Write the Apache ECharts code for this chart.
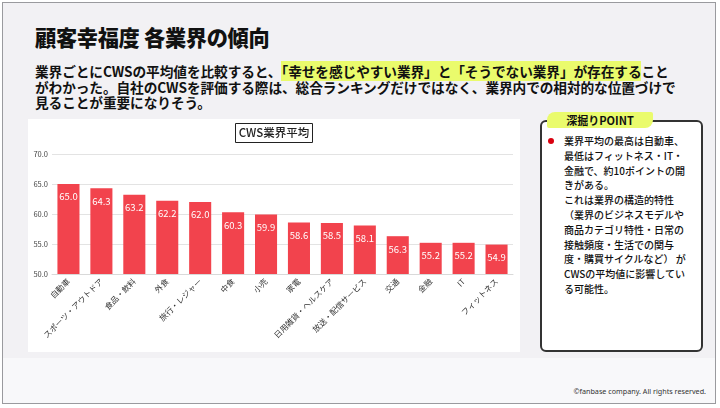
<!DOCTYPE html>
<html>
<head>
    <meta charset="utf-8">
    <title>顧客幸福度 各業界の傾向</title>
    <script src="https://cdn.jsdelivr.net/npm/echarts@6/dist/echarts.min.js"></script>
    <style>
        html, body { margin: 0; padding: 0; }
        body {
            width: 720px; height: 408px; position: relative; overflow: hidden;
            background: #ffffff;
            font-family: "Noto Sans CJK JP", "Noto Sans", sans-serif;
            color: #111;
        }
        #slide {
            position: absolute; left: 2px; top: 2px; width: 714px; height: 402px;
            border: 1.5px solid #9a9a9e; box-sizing: border-box;
            background: #f2f1f4;
        }
        #foot {
            position: absolute; left: 2px; top: 358px; width: 714px; height: 46px;
            background: #f8f8fa; border: 1.5px solid #9a9a9e; border-top: none;
            box-sizing: border-box;
        }
        #title {
            position: absolute; left: 35px; top: 21px;
            font-size: 21.2px; font-weight: 900; letter-spacing: -0.3px;
        }
        #lead {
            position: absolute; left: 35px; top: 64px; width: 680px;
            font-size: 13.7px; font-weight: bold; line-height: 15.6px;
            letter-spacing: -0.1px; white-space: nowrap;
        }
        .hl { background: #eafb6c; }
        #main {
            position: absolute; left: 28px; top: 119px; width: 492px; height: 233px;
            background: #ffffff;
        }
        #point {
            position: absolute; left: 540px; top: 120px; width: 163px; height: 232px;
            border: 2px solid #333; border-radius: 6px; box-sizing: border-box;
            background: #ffffff;
        }
        #tab {
            position: absolute; left: 547px; top: 112px; width: 106px; height: 16px;
            background: #eafb6c; border-radius: 8px 2px 8px 2px;
            font-size: 11px; font-weight: bold; text-align: center; line-height: 16px;
        }
        #dot {
            position: absolute; left: 548px; top: 138px; width: 6px; height: 6px;
            border-radius: 50%; background: #d9000f;
        }
        #note {
            position: absolute; left: 564px; top: 134px;
            font-size: 10px; line-height: 14.8px; font-weight: 500; color: #111;
            white-space: nowrap;
        }
        #copy {
            position: absolute; right: 14px; top: 386px;
            font-family: "Noto Sans", sans-serif; font-size: 7.2px; color: #333;
        }
    </style>
</head>
<body>
    <div id="slide"></div>
    <div id="foot"></div>
    <div id="title">顧客幸福度 各業界の傾向</div>
    <div id="lead">業界ごとにCWSの平均値を比較すると、<span class="hl">「幸せを感じやすい業界」と「そうでない業界」が存在する</span>こと<br>がわかった。自社のCWSを評価する際は、総合ランキングだけではなく、業界内での相対的な位置づけで<br>見ることが重要になりそう。</div>
    <div id="main"></div>
    <div id="point"></div>
    <div id="tab">深掘りPOINT</div>
    <div id="dot"></div>
    <div id="note">業界平均の最高は自動車、<br>最低はフィットネス・IT・<br>金融で、約10ポイントの開<br>きがある。<br>これは業界の構造的特性<br>（業界のビジネスモデルや<br>商品カテゴリ特性・日常の<br>接触頻度・生活での関与<br>度・購買サイクルなど） が<br>CWSの平均値に影響してい<br>る可能性。</div>
    <div id="copy">©fanbase company. All rights reserved.</div>
    <script>
        var industries = ['自動車', 'スポーツ・アウトドア', '食品・飲料', '外食', '旅行・レジャー', '中食', '小売',
            '家電', '日用雑貨・ヘルスケア', '放送・配信サービス', '交通', '金融', 'IT', 'フィットネス']
        var cwsAverage = [65.0, 64.3, 63.2, 62.2, 62.0, 60.3, 59.9, 58.6, 58.5, 58.1, 56.3, 55.2, 55.2, 54.9]

        var myChart = echarts.init(document.querySelector('#main'))

        var option = {
            animation: false,
            textStyle: { fontFamily: '"Noto Sans CJK JP", "Noto Sans", sans-serif' },
            title: {
                text: 'CWS業界平均',
                left: 'center',
                top: 4,
                borderColor: '#222',
                borderWidth: 1,
                padding: [4, 3, 4, 3],
                textStyle: { fontSize: 11.5, fontWeight: 500, color: '#222' }
            },
            grid: { left: 24, right: 7, top: 35, bottom: 78, containLabel: false },
            xAxis: {
                type: 'category',
                data: industries,
                axisLine: { lineStyle: { color: '#d9d9d9' } },
                axisTick: { show: false },
                axisLabel: { rotate: 45, interval: 0, fontSize: 8, color: '#333', margin: 6 }
            },
            yAxis: {
                type: 'value',
                min: 50,
                max: 70,
                interval: 5,
                axisLine: { show: false },
                axisTick: { show: false },
                splitLine: { lineStyle: { color: '#e3e3e3' } },
                axisLabel: {
                    fontSize: 7.5, color: '#444', margin: 4,
                    formatter: function(v) { return v.toFixed(1) }
                }
            },
            series: [
                {
                    name: 'CWS業界平均',
                    type: 'bar',
                    data: cwsAverage,
                    barWidth: '67%',
                    itemStyle: { color: '#f2434d' },
                    label: {
                        show: true,
                        position: 'insideTop',
                        distance: 8,
                        fontSize: 9.5,
                        color: '#ffffff',
                        formatter: function(p) { return p.value.toFixed(1) }
                    }
                }
            ]
        }

        myChart.setOption(option)
    </script>
</body>
</html>
